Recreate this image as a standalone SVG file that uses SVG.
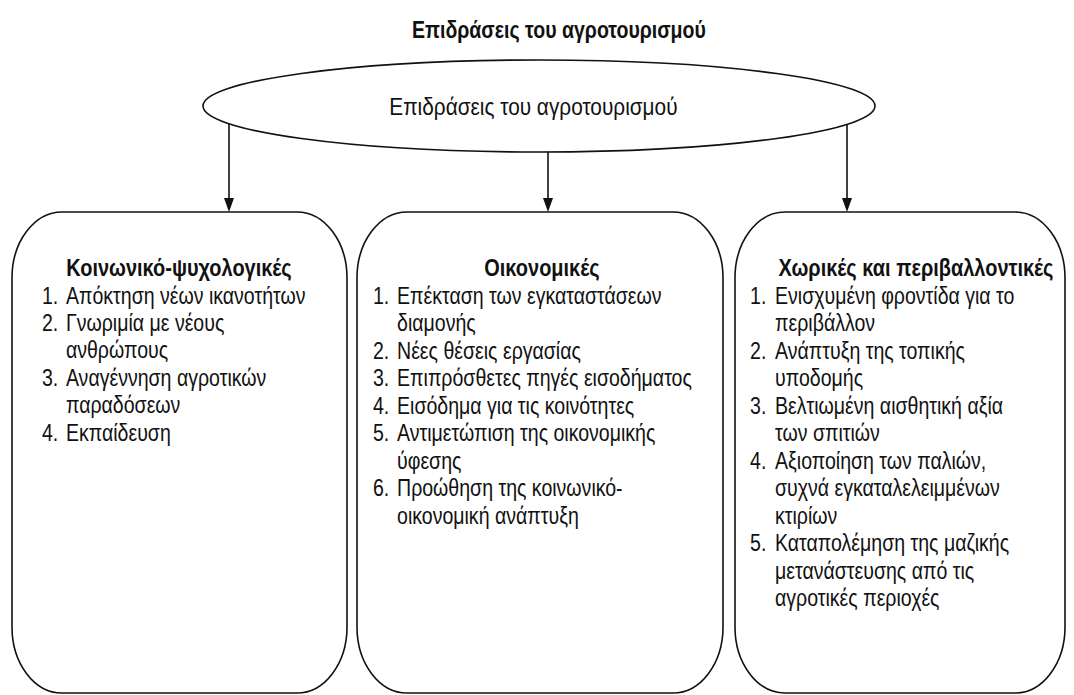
<svg xmlns="http://www.w3.org/2000/svg" width="1074" height="695" viewBox="0 0 1074 695">
<defs>
<style>
text{font-family:"Liberation Sans",Arial,sans-serif;fill:#111;}
.t{font-size:23px;font-weight:bold;}
.e{font-size:24.5px;}
.h{font-size:23.5px;font-weight:bold;}
.i{font-size:23px;}
.box{fill:#fff;stroke:#111;stroke-width:1.6;}
.ln{stroke:#111;stroke-width:1.6;fill:none;}
.ah{fill:#111;}
</style>
</defs>
<rect width="1074" height="695" fill="#fff"/>
<g transform="scale(0.85,1)">
<text class="t" x="657.6" y="38" text-anchor="middle">Επιδράσεις του αγροτουρισμού</text>
</g>
<g id="root">
<ellipse class="box" cx="539" cy="106" rx="336" ry="46"/>
<g transform="scale(0.85,1)">
<text class="e" x="627.6" y="115" text-anchor="middle">Επιδράσεις του αγροτουρισμού</text>
</g>
</g>
<g id="connectors">
<line class="ln" x1="229" y1="124" x2="229" y2="198"/>
<path class="ah" d="M224,198 L234,198 L229,212 Z"/>
<line class="ln" x1="548" y1="152" x2="548" y2="198"/>
<path class="ah" d="M543,198 L553,198 L548,212 Z"/>
<line class="ln" x1="847" y1="124" x2="847" y2="198"/>
<path class="ah" d="M842,198 L852,198 L847,212 Z"/>
</g>
<g id="box1">
<rect class="box" x="12" y="212" width="335" height="481" rx="50" ry="66"/>
<g transform="scale(0.85,1)">
<text class="h" x="210.6" y="276" text-anchor="middle">Κοινωνικό-ψυχολογικές</text>
<g class="i">
<text x="49.4" y="304">1.</text><text x="77.6" y="304">Απόκτηση νέων ικανοτήτων</text>
<text x="49.4" y="331">2.</text><text x="77.6" y="331">Γνωριμία με νέους</text>
<text x="77.6" y="358">ανθρώπους</text>
<text x="49.4" y="386">3.</text><text x="77.6" y="386">Αναγέννηση αγροτικών</text>
<text x="77.6" y="413">παραδόσεων</text>
<text x="49.4" y="441">4.</text><text x="77.6" y="441">Εκπαίδευση</text>
</g>
</g>
</g>
<g id="box2">
<rect class="box" x="357" y="212" width="366" height="481" rx="50" ry="66"/>
<g transform="scale(0.85,1)">
<text class="h" x="637.6" y="276" text-anchor="middle">Οικονομικές</text>
<g class="i">
<text x="438.8" y="304">1.</text><text x="467.1" y="304">Επέκταση των εγκαταστάσεων</text>
<text x="467.1" y="331">διαμονής</text>
<text x="438.8" y="359">2.</text><text x="467.1" y="359">Νέες θέσεις εργασίας</text>
<text x="438.8" y="386">3.</text><text x="467.1" y="386">Επιπρόσθετες πηγές εισοδήματος</text>
<text x="438.8" y="414">4.</text><text x="467.1" y="414">Εισόδημα για τις κοινότητες</text>
<text x="438.8" y="441">5.</text><text x="467.1" y="441">Αντιμετώπιση της οικονομικής</text>
<text x="467.1" y="469">ύφεσης</text>
<text x="438.8" y="496">6.</text><text x="467.1" y="496">Προώθηση της κοινωνικό-</text>
<text x="467.1" y="524">οικονομική ανάπτυξη</text>
</g>
</g>
</g>
<g id="box3">
<rect class="box" x="735" y="212" width="330" height="481" rx="50" ry="66"/>
<g transform="scale(0.85,1)">
<text class="h" x="1077.6" y="276" text-anchor="middle">Χωρικές και περιβαλλοντικές</text>
<g class="i">
<text x="882.4" y="304">1.</text><text x="911.8" y="304">Ενισχυμένη φροντίδα για το</text>
<text x="911.8" y="331">περιβάλλον</text>
<text x="882.4" y="359">2.</text><text x="911.8" y="359">Ανάπτυξη της τοπικής</text>
<text x="911.8" y="386">υποδομής</text>
<text x="882.4" y="414">3.</text><text x="911.8" y="414">Βελτιωμένη αισθητική αξία</text>
<text x="911.8" y="441">των σπιτιών</text>
<text x="882.4" y="469">4.</text><text x="911.8" y="469">Αξιοποίηση των παλιών,</text>
<text x="911.8" y="496">συχνά εγκαταλελειμμένων</text>
<text x="911.8" y="524">κτιρίων</text>
<text x="882.4" y="551">5.</text><text x="911.8" y="551">Καταπολέμηση της μαζικής</text>
<text x="911.8" y="579">μετανάστευσης από τις</text>
<text x="911.8" y="606">αγροτικές περιοχές</text>
</g>
</g>
</g>
</svg>
